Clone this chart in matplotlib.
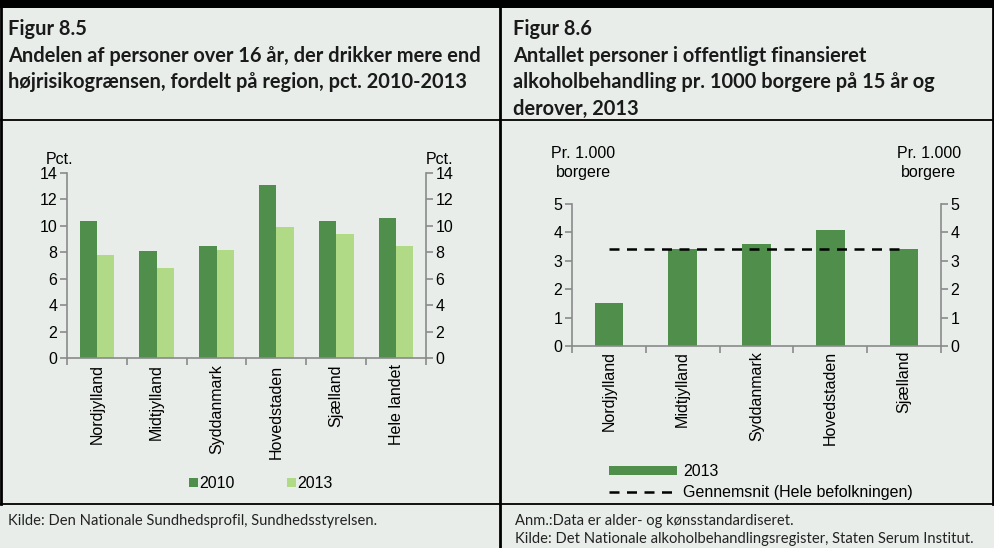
import numpy as np
import matplotlib
matplotlib.use("Agg")
import matplotlib.pyplot as plt
from matplotlib.lines import Line2D
from matplotlib.patches import Rectangle

# ---------------- data ----------------
regions_85 = ["Nordjylland", "Midtjylland", "Syddanmark", "Hovedstaden", "Sjælland", "Hele landet"]
pct_2010 = [10.4, 8.1, 8.5, 13.1, 10.4, 10.6]
pct_2013 = [7.8, 6.8, 8.2, 9.9, 9.4, 8.5]

regions_86 = ["Nordjylland", "Midtjylland", "Syddanmark", "Hovedstaden", "Sjælland"]
per1000_2013 = [1.5, 3.4, 3.6, 4.1, 3.4]
gennemsnit = 3.4

title_85 = "Figur 8.5\nAndelen af personer over 16 år, der drikker mere end\nhøjrisikogrænsen, fordelt på region, pct. 2010-2013"
title_86 = "Figur 8.6\nAntallet personer i offentligt finansieret\nalkoholbehandling pr. 1000 borgere på 15 år og\nderover, 2013"
note_85 = "Kilde: Den Nationale Sundhedsprofil, Sundhedsstyrelsen."
note_86 = "Anm.:Data er alder- og kønsstandardiseret.\nKilde: Det Nationale alkoholbehandlingsregister, Staten Serum Institut."

DARK = "#4f8f4b"
LIGHT = "#b0da86"
BG = "#e8edea"
GREY = "#8a8a8a"
W, H = 995, 548

fig = plt.figure(figsize=(W / 100, H / 100), dpi=100)
fig.patch.set_facecolor(BG)


def px_axes(x0, y_top, x1, y_bot):
    return fig.add_axes([x0 / W, 1 - y_bot / H, (x1 - x0) / W, (y_bot - y_top) / H])


def fx(x):
    return x / W


def fy(y):
    return 1 - y / H


# ---------------- frame lines ----------------
frame = fig.add_axes([0, 0, 1, 1])
frame.set_xlim(0, W)
frame.set_ylim(H, 0)
frame.axis("off")
frame.patch.set_alpha(0)
frame.add_patch(Rectangle((0, 0), W, 8, color="black", lw=0))
frame.plot([1, 1], [0, 504], color="black", lw=2)
frame.plot([993, 993], [0, 504], color="black", lw=2)
frame.plot([500, 500], [0, H], color="black", lw=2)
frame.plot([0, W], [120, 120], color="black", lw=1.3)
frame.plot([0, W], [504, 504], color="black", lw=1.3)

title_font = dict(family=["Lato", "DejaVu Sans"], fontweight="bold", fontsize=14.4,
                  color="#1a1a1a", linespacing=1.42, va="top", ha="left")
fig.text(fx(8), fy(19), title_85, **title_font)
fig.text(fx(513), fy(19), title_86, **title_font)

note_font = dict(family=["Lato", "DejaVu Sans"], fontsize=10.6, color="#222222",
                 va="top", ha="left", linespacing=1.4)
fig.text(fx(8), fy(514), note_85, **note_font)
fig.text(fx(515), fy(514), note_86, **note_font)

plt.rcParams["font.family"] = ["Liberation Sans", "DejaVu Sans"]
TICK_FS = 11.5


def style_axes(ax, n, ymax, ystep):
    ax.set_facecolor("none")
    ax.set_xlim(-0.5, n - 0.5)
    ax.set_ylim(0, ymax)
    ax.set_yticks(np.arange(0, ymax + 0.01, ystep))
    for s in ["top", "right"]:
        ax.spines[s].set_visible(False)
    for s in ["left", "bottom"]:
        ax.spines[s].set_color(GREY)
        ax.spines[s].set_linewidth(1.2)
    ax.tick_params(axis="y", colors=GREY, labelcolor="black", labelsize=TICK_FS,
                   length=5, width=1.2, direction="out", pad=2)
    ax.set_xticks(np.arange(-0.5, n, 1.0))
    ax.set_xticklabels([])
    ax.tick_params(axis="x", colors=GREY, length=5, width=1.2, direction="out")
    for i, lab in enumerate(ax._cats):
        ax.text(i, -0.035 * ymax, lab, rotation=90, ha="center", va="top",
                fontsize=TICK_FS, transform=ax.transData)
    ax2 = ax.twinx()
    ax2.set_ylim(0, ymax)
    ax2.set_yticks(np.arange(0, ymax + 0.01, ystep))
    for s in ["top", "left", "bottom"]:
        ax2.spines[s].set_visible(False)
    ax2.spines["right"].set_color(GREY)
    ax2.spines["right"].set_linewidth(1.2)
    ax2.tick_params(axis="y", colors=GREY, labelcolor="black", labelsize=TICK_FS,
                    length=5, width=1.2, direction="out", pad=2)
    return ax2


# ---------------- Figur 8.5 ----------------
ax1 = px_axes(67, 173, 426, 358)
ax1._cats = regions_85
x1 = np.arange(len(regions_85))
bw = 0.29
ax1.bar(x1 - bw / 2, pct_2010, bw, color=DARK, label="2010")
ax1.bar(x1 + bw / 2, pct_2013, bw, color=LIGHT, label="2013")
style_axes(ax1, len(regions_85), 14, 2)
ax1.text(-0.022, 1.035, "Pct.", transform=ax1.transAxes, ha="center", va="bottom", fontsize=TICK_FS)
ax1.text(1.039, 1.035, "Pct.", transform=ax1.transAxes, ha="center", va="bottom", fontsize=TICK_FS)

# legend 8.5
frame.add_patch(Rectangle((189, 478), 9, 9, color=DARK, lw=0))
frame.text(199, 483, "2010", fontsize=TICK_FS, va="center", ha="left")
frame.add_patch(Rectangle((287, 478), 9, 9, color=LIGHT, lw=0))
frame.text(297, 483, "2013", fontsize=TICK_FS, va="center", ha="left")

# ---------------- Figur 8.6 ----------------
ax3 = px_axes(572, 204, 941, 346)
ax3._cats = regions_86
x3 = np.arange(len(regions_86))
ax3.bar(x3, per1000_2013, 0.39, color=DARK)
ax3.plot([x3[0], x3[-1]], [gennemsnit, gennemsnit], color="black", lw=1.8,
         dashes=(4, 3))
style_axes(ax3, len(regions_86), 5, 1)
ax3.text(0.03, 1.17, "Pr. 1.000\nborgere", transform=ax3.transAxes, ha="center",
         va="bottom", fontsize=TICK_FS, linespacing=1.3)
ax3.text(0.967, 1.17, "Pr. 1.000\nborgere", transform=ax3.transAxes, ha="center",
         va="bottom", fontsize=TICK_FS, linespacing=1.3)

# legend 8.6
frame.add_patch(Rectangle((609, 466), 68, 9, color=DARK, lw=0))
frame.text(683, 471, "2013", fontsize=TICK_FS, va="center", ha="left")
frame.add_line(Line2D([609, 672], [492, 492], color="black", lw=1.8, dashes=(4, 3)))
frame.text(683, 492, "Gennemsnit (Hele befolkningen)", fontsize=TICK_FS, va="center", ha="left")

fig.savefig("out.png", dpi=100, facecolor=BG)
